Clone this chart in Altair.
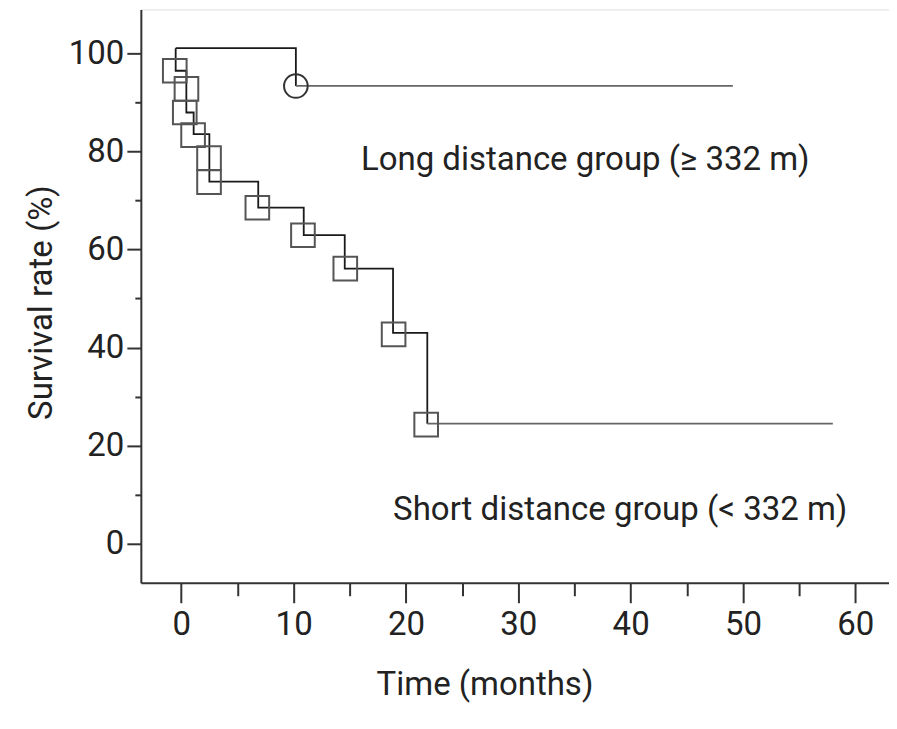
import altair as alt
import pandas as pd

# ---- data ----
# Short distance group: Kaplan-Meier step points (time in months, survival %)
short_t = [-0.5, -0.5, 0.45, 0.45, 1.1, 2.5, 2.5, 6.85, 10.9, 14.55, 18.85, 21.9]
short_s = [101.0, 96.4, 92.7, 87.9, 83.5, 78.6, 73.8, 68.5, 62.9, 56.1, 43.0, 24.5]
short_tail_t = [21.9, 58.0]
short_tail_s = [24.5, 24.5]

# square markers of the short group
sq_t = [-0.58, 0.46, 0.31, 1.05, 2.47, 2.47, 6.77, 10.83, 14.6, 18.9, 21.8]
sq_s = [96.4, 92.7, 87.9, 83.3, 78.6, 73.7, 68.5, 62.9, 56.1, 42.7, 24.3]

# Long distance group
long_t = [-0.5, 10.2, 10.2]
long_s = [101.0, 101.0, 93.3]
long_tail_t = [10.2, 49.1]
long_tail_s = [93.3, 93.3]
circ_t = [10.2]
circ_s = [93.3]

# annotations
ann_text = ["Long distance group (\u2265 332 m)", "Short distance group (< 332 m)"]
ann_t = [35.96, 39.07]
ann_s = [78.2, 7.0]

FONT = "Liberation Sans Narrow, Roboto, sans-serif"

rows = []
for i, (t, s) in enumerate(zip(short_t, short_s)):
    rows.append({"seg": "short", "t": t, "s": s, "o": i})
for i, (t, s) in enumerate(zip(short_tail_t, short_tail_s)):
    rows.append({"seg": "short_tail", "t": t, "s": s, "o": i})
for i, (t, s) in enumerate(zip(long_t, long_s)):
    rows.append({"seg": "long", "t": t, "s": s, "o": i})
for i, (t, s) in enumerate(zip(long_tail_t, long_tail_s)):
    rows.append({"seg": "long_tail", "t": t, "s": s, "o": i})
lines_df = pd.DataFrame(rows)
sq_df = pd.DataFrame({"t": sq_t, "s": sq_s})
circ_df = pd.DataFrame({"t": circ_t, "s": circ_s})
ann_df = pd.DataFrame({"label": ann_text, "t": ann_t, "s": ann_s})

xscale = alt.Scale(domain=[-3.6, 63], nice=False, zero=False)
yscale = alt.Scale(domain=[-7.9, 108.9], nice=False, zero=False)

xaxis = alt.Axis(
    values=list(range(0, 61, 5)),
    labelExpr="datum.value % 10 === 0 ? datum.label : ''",
    tickSize={"condition": {"test": "datum.value % 10 === 0", "value": 20}, "value": 13},
    title="Time (months)",
    grid=False,
    domainColor="#333333", domainWidth=2,
    tickColor="#333333", tickWidth=2,
    labelFont=FONT, labelFontSize=33, labelColor="#222222", labelPadding=6,
    labelFlush=False,
    titleFont=FONT, titleFontSize=33, titleFontWeight="normal", titleColor="#222222",
    titleX=344, titleY=102, titleBaseline="middle", titleAlign="center",
)
yaxis = alt.Axis(
    values=list(range(0, 101, 10)),
    labelExpr="datum.value % 20 === 0 ? datum.label : ''",
    tickSize={"condition": {"test": "datum.value % 20 === 0", "value": 14}, "value": 6},
    title="Survival rate (%)",
    grid=False,
    domainColor="#333333", domainWidth=2,
    tickColor="#333333", tickWidth=2,
    labelFont=FONT, labelFontSize=33, labelColor="#222222", labelPadding=3,
    labelFlush=False,
    titleFont=FONT, titleFontSize=33, titleFontWeight="normal", titleColor="#222222",
    titleAngle=270, titleX=-82, titleY=293, titleBaseline="bottom", titleAlign="center",
)

lines = alt.Chart(lines_df).mark_line(interpolate="step-after", strokeWidth=1.8).encode(
    x=alt.X("t:Q", scale=xscale, axis=xaxis),
    y=alt.Y("s:Q", scale=yscale, axis=yaxis),
    detail="seg:N",
    order="o:Q",
    color=alt.Color("seg:N", legend=None,
                    scale=alt.Scale(domain=["short", "short_tail", "long", "long_tail"],
                                    range=["#1a1a1a", "#666666", "#1a1a1a", "#666666"])),
)

squares = alt.Chart(sq_df).mark_point(shape="square", filled=False, size=560,
                                      strokeWidth=2, color="#555555", opacity=1).encode(
    x=alt.X("t:Q", scale=xscale), y=alt.Y("s:Q", scale=yscale))

circles = alt.Chart(circ_df).mark_point(shape="circle", filled=False, size=560,
                                        strokeWidth=2, color="#333333", opacity=1).encode(
    x=alt.X("t:Q", scale=xscale), y=alt.Y("s:Q", scale=yscale))

texts = alt.Chart(ann_df).mark_text(font=FONT, fontSize=33, color="#222222",
                                    align="center", baseline="middle").encode(
    x=alt.X("t:Q", scale=xscale), y=alt.Y("s:Q", scale=yscale), text="label:N")

chart = alt.layer(lines, squares, circles, texts).properties(
    width=749, height=574,
    autosize=alt.AutoSizeParams(type="none"),
    padding={"left": 133, "top": 1, "right": 0, "bottom": 130},
).configure_view(stroke=None).configure(background="white")

chart.save("out.html", embed_options={"renderer": "svg", "actions": False})
